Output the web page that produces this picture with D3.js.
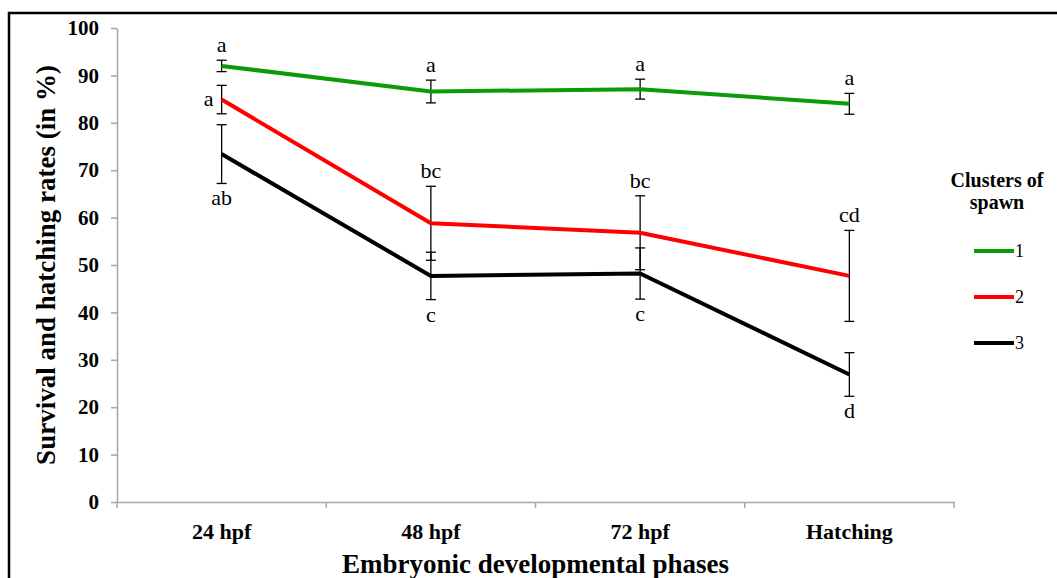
<!DOCTYPE html>
<html>
<head>
<meta charset="utf-8">
<script src="https://cdn.jsdelivr.net/npm/d3@7"></script>
<style>
  html, body { margin: 0; padding: 0; background: #fff; }
  svg { display: block; }
  svg text { font-family: 'Liberation Serif', 'Times New Roman', serif; }
</style>
</head>
<body>
<svg id="chart" width="1057" height="578"></svg>
<script>
// ---- data ----
const categories = ["24 hpf", "48 hpf", "72 hpf", "Hatching"];
const seriesNames = ["1", "2", "3"];
const cluster1 = [92.0, 86.6, 87.1, 84.0];
const cluster2 = [84.9, 58.8, 56.8, 47.7];
const cluster3 = [73.4, 47.7, 48.2, 26.9];
const err1 = [1.2, 2.4, 2.1, 2.2];
const err2 = [3.0, 7.8, 7.8, 9.6];
const err3 = [6.2, 5.0, 5.4, 4.6];
const letters1 = ["a", "a", "a", "a"];
const letters2 = ["a", "bc", "bc", "cd"];
const letters3 = ["ab", "c", "c", "d"];
const letterSide1 = ["above", "above", "above", "above"];
const letterSide2 = ["left", "above", "above", "above"];
const letterSide3 = ["below", "below", "below", "below"];
const yTicks = [0, 10, 20, 30, 40, 50, 60, 70, 80, 90, 100];
const colors = ["#0a9a0a", "#ff0000", "#000000"];

(function () {
const series = [
  { name: seriesNames[0], values: cluster1, err: err1, letters: letters1, side: letterSide1, color: colors[0] },
  { name: seriesNames[1], values: cluster2, err: err2, letters: letters2, side: letterSide2, color: colors[1] },
  { name: seriesNames[2], values: cluster3, err: err3, letters: letters3, side: letterSide3, color: colors[2] }
];

const svg = d3.select("#chart");
const serif = "'Liberation Serif', 'Times New Roman', serif";

// frame
svg.append("rect")
  .attr("x", 9).attr("y", 13).attr("width", 1200).attr("height", 700)
  .attr("fill", "none").attr("stroke", "#000").attr("stroke-width", 2.5);

const pLeft = 117, pRight = 954, pTop = 28, pBottom = 502;
const x = d3.scaleBand().domain(categories).range([pLeft, pRight]).paddingInner(0).paddingOuter(0);
const xc = c => x(c) + x.bandwidth() / 2;
const y = d3.scaleLinear().domain([0, 100]).range([pBottom, pTop]);

const axisColor = "#a6a6a6";

// y axis
const yAxis = svg.append("g").attr("transform", `translate(${pLeft},0)`)
  .call(d3.axisLeft(y).tickValues(yTicks).tickSize(6).tickPadding(12).tickSizeOuter(0));
yAxis.attr("font-family", serif);
yAxis.select(".domain").attr("stroke", axisColor).attr("stroke-width", 1.5);
yAxis.selectAll(".tick line").attr("stroke", axisColor).attr("stroke-width", 1.5);
yAxis.selectAll(".tick text")
  .style("font-family", serif).attr("font-weight", "bold").attr("font-size", 21).attr("fill", "#000");

// x axis (labels at centers, tick marks at category boundaries)
const xAxis = svg.append("g").attr("transform", `translate(0,${pBottom})`)
  .call(d3.axisBottom(x).tickSize(0).tickPadding(21).tickSizeOuter(0));
xAxis.attr("font-family", serif);
xAxis.select(".domain").attr("stroke", axisColor).attr("stroke-width", 1.5);
xAxis.selectAll(".tick text")
  .style("font-family", serif).attr("font-weight", "bold").attr("font-size", 22).attr("fill", "#000");
const boundaries = categories.map(c => x(c)).concat([x(categories[categories.length - 1]) + x.bandwidth()]);
xAxis.selectAll("line.bt").data(boundaries).enter().append("line")
  .attr("class", "bt")
  .attr("x1", d => d).attr("x2", d => d).attr("y1", 0).attr("y2", 6)
  .attr("stroke", axisColor).attr("stroke-width", 1.5);

// axis titles
svg.append("text")
  .attr("transform", `translate(55,${(pTop + pBottom) / 2}) rotate(-90)`)
  .attr("text-anchor", "middle")
  .style("font-family", serif).attr("font-weight", "bold").attr("font-size", 27)
  .text("Survival and hatching rates (in %)");
svg.append("text")
  .attr("x", (pLeft + pRight) / 2).attr("y", 573)
  .attr("text-anchor", "middle")
  .style("font-family", serif).attr("font-weight", "bold").attr("font-size", 27)
  .text("Embryonic developmental phases");

// error bars
const capW = 5;
series.forEach(s => {
  const g = svg.append("g");
  categories.forEach((c, i) => {
    const cx = xc(c);
    const y1 = y(s.values[i] + s.err[i]);
    const y2 = y(s.values[i] - s.err[i]);
    g.append("line").attr("x1", cx).attr("x2", cx).attr("y1", y1).attr("y2", y2)
      .attr("stroke", "#000").attr("stroke-width", 1.3);
    [y1, y2].forEach(yy => g.append("line")
      .attr("x1", cx - capW).attr("x2", cx + capW).attr("y1", yy).attr("y2", yy)
      .attr("stroke", "#000").attr("stroke-width", 1.3));
  });
});

// lines
const line = d3.line().x((d, i) => xc(categories[i])).y(d => y(d));
series.forEach(s => {
  svg.append("path").datum(s.values)
    .attr("d", line)
    .attr("fill", "none").attr("stroke", s.color).attr("stroke-width", 4)
    .attr("stroke-linejoin", "round");
});

// significance letters
series.forEach(s => {
  categories.forEach((c, i) => {
    const cx = xc(c);
    const t = svg.append("text")
      .style("font-family", serif).attr("font-size", 22).attr("fill", "#000")
      .text(s.letters[i]);
    if (s.side[i] === "above") {
      t.attr("x", cx).attr("y", y(s.values[i] + s.err[i]) - 8).attr("text-anchor", "middle");
    } else if (s.side[i] === "below") {
      t.attr("x", cx).attr("y", y(s.values[i] - s.err[i]) + 22).attr("text-anchor", "middle");
    } else {
      t.attr("x", cx - 8).attr("y", y(s.values[i]) + 6).attr("text-anchor", "end");
    }
  });
});

// legend
const lg = svg.append("g");
lg.append("text").attr("x", 997).attr("y", 187).attr("text-anchor", "middle")
  .style("font-family", serif).attr("font-weight", "bold").attr("font-size", 20)
  .text("Clusters of");
lg.append("text").attr("x", 997).attr("y", 209).attr("text-anchor", "middle")
  .style("font-family", serif).attr("font-weight", "bold").attr("font-size", 20)
  .text("spawn");
const legY = d3.scalePoint().domain(seriesNames).range([251, 343]);
series.forEach(s => {
  lg.append("line").attr("x1", 974).attr("x2", 1014)
    .attr("y1", legY(s.name)).attr("y2", legY(s.name))
    .attr("stroke", s.color).attr("stroke-width", 4);
  lg.append("text").attr("x", 1015).attr("y", legY(s.name) + 6)
    .style("font-family", serif).attr("font-size", 18)
    .text(s.name);
});
})();
</script>
</body>
</html>
